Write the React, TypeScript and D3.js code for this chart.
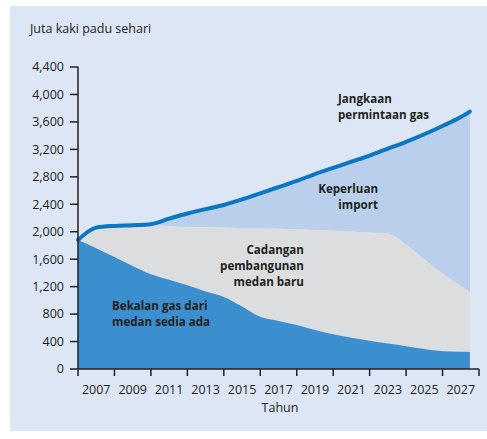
import React from "react";
import * as d3 from "d3";

const years = [2006, 2007, 2008, 2009, 2010, 2011, 2012, 2013, 2014, 2015, 2016, 2017, 2018, 2019, 2020, 2021, 2022, 2023, 2024, 2025, 2026, 2027, 2027.5];
const demand = [1880, 2060, 2085, 2095, 2110, 2190, 2265, 2330, 2390, 2470, 2560, 2650, 2740, 2840, 2930, 3020, 3110, 3210, 3310, 3420, 3540, 3670, 3750];
const withNewFields = [1880, 2060, 2085, 2095, 2100, 2080, 2070, 2065, 2060, 2055, 2050, 2045, 2035, 2025, 2015, 2005, 1990, 1975, 1810, 1600, 1390, 1210, 1120];
const existingFields = [1880, 1760, 1630, 1500, 1380, 1300, 1220, 1130, 1050, 910, 760, 700, 640, 570, 505, 455, 410, 370, 330, 290, 258, 250, 248];

const yTicks = [0, 400, 800, 1200, 1600, 2000, 2400, 2800, 3200, 3600, 4000, 4400];
const xTickYears = [2006, 2008, 2010, 2012, 2014, 2016, 2018, 2020, 2022, 2024, 2026, 2028];
const xLabelYears = [2007, 2009, 2011, 2013, 2015, 2017, 2019, 2021, 2023, 2025, 2027];

const W = 487, H = 439;
const FONT = "'Open Sans', 'Noto Sans', sans-serif";
const TEXT = "#231f20";

function Label({ x, y, lines, anchor = "start" }: { x: number; y: number; lines: string[]; anchor?: "start" | "end" }) {
  return (
    <text x={x} y={y} textAnchor={anchor} fontFamily={FONT} fontWeight={700} fontSize={11.6} fill={TEXT}>
      {lines.map((l, i) => (
        <tspan key={i} x={x} dy={i === 0 ? 0 : 16}>{l}</tspan>
      ))}
    </text>
  );
}

export default function App() {
  const x = d3.scaleLinear().domain([2006, 2028]).range([78, 479]);
  const y = d3.scaleLinear().domain([0, 4400]).range([369, 67]);
  const idx = years.map((_, i) => i);
  const curve = d3.curveMonotoneX;

  const areaExisting = d3.area<number>().x(i => x(years[i])).y0(y(0)).y1(i => y(existingFields[i])).curve(curve);
  const areaNew = d3.area<number>().x(i => x(years[i])).y0(i => y(existingFields[i])).y1(i => y(withNewFields[i])).curve(curve);
  const areaImport = d3.area<number>().x(i => x(years[i])).y0(i => y(withNewFields[i])).y1(i => y(demand[i])).curve(curve);
  const line = d3.line<number>().x(i => x(years[i])).y(i => y(demand[i])).curve(curve);

  const fmt = d3.format(",");

  return (
    <svg width={W} height={H} style={{ position: "absolute", left: 0, top: 0 }} fontFamily={FONT}>
      <rect x={0} y={0} width={W} height={H} fill="#ffffff" />
      <rect x={10} y={6} width={477} height={425} fill="#dce6f4" />
      <text x={30} y={33} fontSize={12.5} fill={TEXT}>Juta kaki padu sehari</text>

      <path d={areaImport(idx) || ""} fill="#b9cfeb" />
      <path d={areaNew(idx) || ""} fill="#dcdddf" />
      <path d={areaExisting(idx) || ""} fill="#3c8fcf" />
      <path d={line(idx) || ""} fill="none" stroke="#0b76c2" strokeWidth={4} strokeLinecap="round" />

      {/* y axis */}
      <line x1={78} x2={78} y1={y(4400)} y2={y(0)} stroke={TEXT} strokeWidth={1.5} />
      {yTicks.map(t => (
        <g key={t}>
          <line x1={70} x2={78} y1={y(t)} y2={y(t)} stroke={TEXT} strokeWidth={1.5} />
          <text x={64} y={y(t)} dy="0.35em" textAnchor="end" fontSize={12.5} fill={TEXT}>{fmt(t)}</text>
        </g>
      ))}

      {/* x axis */}
      <line x1={x(2006)} x2={x(2028)} y1={y(0)} y2={y(0)} stroke={TEXT} strokeWidth={1.5} />
      {xTickYears.map(t => (
        <line key={t} x1={x(t)} x2={x(t)} y1={y(0)} y2={y(0) + 7} stroke={TEXT} strokeWidth={1.5} />
      ))}
      {xLabelYears.map(t => (
        <text key={t} x={x(t)} y={394} textAnchor="middle" fontSize={12.5} fill={TEXT}>{t}</text>
      ))}
      <text x={280} y={412} textAnchor="middle" fontSize={12.5} fill={TEXT}>Tahun</text>

      <Label x={338} y={103} lines={["Jangkaan", "permintaan gas"]} />
      <Label x={378} y={193} lines={["Keperluan", "import"]} anchor="end" />
      <Label x={304} y={254} lines={["Cadangan", "pembangunan", "medan baru"]} anchor="end" />
      <Label x={112} y={310} lines={["Bekalan gas dari", "medan sedia ada"]} />
    </svg>
  );
}
